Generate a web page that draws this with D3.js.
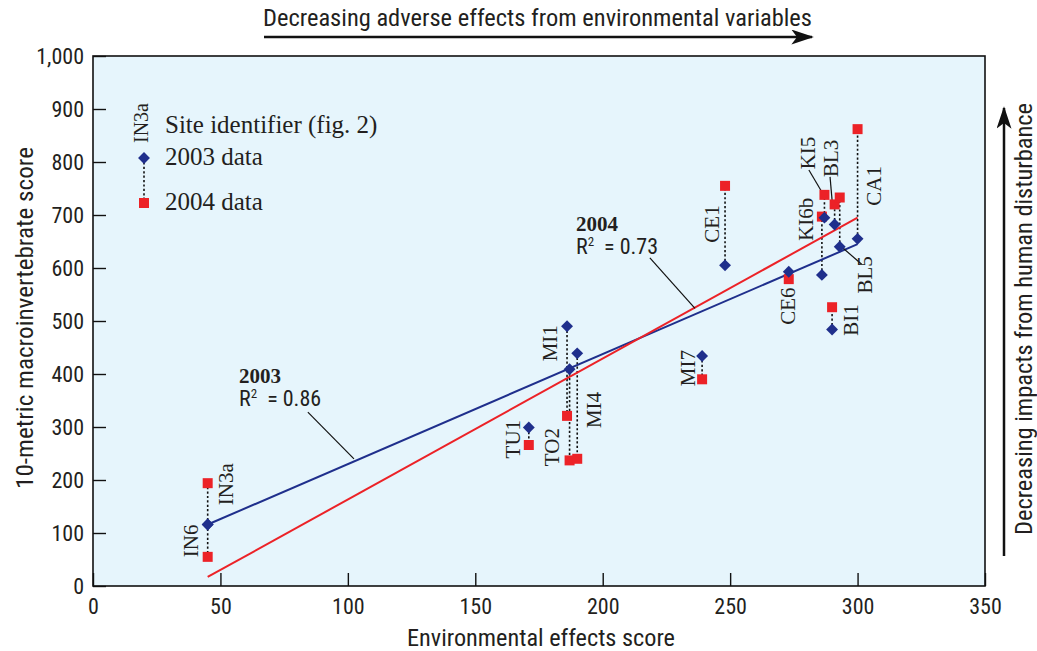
<!DOCTYPE html>
<html>
<head>
<meta charset="utf-8">
<script src="https://cdn.jsdelivr.net/npm/d3@7"></script>
<style>
  body { margin: 0; background: #fff; }
  svg { display: block; }
  .sans { font-family: "Liberation Sans Narrow", "Roboto Condensed", "Liberation Sans", sans-serif; }
  .serif { font-family: "Liberation Serif", "DejaVu Serif", serif; }
</style>
</head>
<body>
<script>
const WIDTH = 1037
const HEIGHT = 651

// site data: environmental effects score, 2003 and 2004 macroinvertebrate scores
const SITES = ['IN3a', 'IN6', 'TU1', 'MI1', 'TO2', 'MI4', 'MI7', 'CE1', 'CE6', 'KI6b', 'KI5', 'BI1', 'BL3', 'BL5', 'CA1']
const ENV_SCORE = [45, 45, 171, 186, 187, 190, 239, 248, 273, 286, 287, 290, 291, 293, 300]
const SCORE_2003 = [116, 116, 299, 490, 409, 439, 434, 605, 593, 587, 695, 484, 682, 640, 655]
const SCORE_2004 = [194, 55, 266, 321, 237, 240, 390, 755, 579, 697, 738, 526, 720, 733, 862]

// where each site label sits (data units)
const LABEL_X = [52, 38.5, 164.5, 179.3, 180.1, 196.5, 233.4, 242.8, 272.7, 279.7, 280.5, 297.4, 289.5, 302.9, 306.4]
const LABEL_Y = [192, 85, 277, 458, 262, 332, 411, 683, 528, 692, 817, 502, 807, 587, 755]

// leader lines for a few crowded labels [x1, y1, x2, y2]
const LEADERS = [
  [280.9, 785, 286.4, 740],   // KI5
  [289.2, 772, 290, 728],     // BL3
  [293, 643, 301.6, 607],     // BL5
  [84.3, 328, 102.4, 240],    // 2003 fit
  [218.5, 619, 236.2, 524]    // 2004 fit
]

// regression lines
const FIT_2003 = [[45, 116], [300, 645]]
const FIT_2004 = [[45, 17], [300, 695]]

const X_TICKS = [0, 50, 100, 150, 200, 250, 300, 350]
const Y_TICKS = [0, 100, 200, 300, 400, 500, 600, 700, 800, 900, 1000]

const BLUE = '#1f2f8c'
const RED = '#ec2227'

const data = SITES.map((s, i) => ({
  site: s, x: ENV_SCORE[i], y3: SCORE_2003[i], y4: SCORE_2004[i], lx: LABEL_X[i], ly: LABEL_Y[i]
}))

const svg = d3.select('body').append('svg')
  .attr('width', WIDTH)
  .attr('height', HEIGHT)

const x = d3.scaleLinear().domain([0, 350]).range([93, 985])
const y = d3.scaleLinear().domain([0, 1000]).range([586, 56])

// fond bleu + cadre
svg.append('rect')
  .attr('x', x(0)).attr('y', y(1000))
  .attr('width', x(350) - x(0)).attr('height', y(0) - y(1000))
  .attr('fill', '#e6f5fc')

// axes, ticks pointing inward
const xAxis = svg.append('g')
  .attr('transform', `translate(0,${y(0)})`)
  .call(d3.axisBottom(x).tickValues(X_TICKS).tickSize(-13).tickPadding(12))
const yAxis = svg.append('g')
  .attr('transform', `translate(${x(0)},0)`)
  .call(d3.axisLeft(y).tickValues(Y_TICKS).tickFormat(d3.format(',')).tickSize(-13).tickPadding(9))

;[xAxis, yAxis].forEach(g => {
  g.select('.domain').remove()
  g.selectAll('.tick line').attr('stroke', '#111').attr('stroke-width', 1.4)
  g.selectAll('.tick text')
    .attr('class', 'sans')
    .attr('font-size', 22)
    .attr('fill', '#231f20')
})
yAxis.selectAll('.tick text').attr('dy', '0.36em')

svg.append('rect')
  .attr('x', x(0)).attr('y', y(1000))
  .attr('width', x(350) - x(0)).attr('height', y(0) - y(1000))
  .attr('fill', 'none').attr('stroke', '#111').attr('stroke-width', 1.6)

// titres, largeur calée sur la figure
function title(sel, len) {
  return sel.attr('class', 'sans')
    .attr('font-size', 24)
    .attr('fill', '#231f20')
    .attr('textLength', len)
    .attr('lengthAdjust', 'spacingAndGlyphs')
}

title(svg.append('text'), 268)
  .attr('x', 541).attr('y', 646)
  .attr('text-anchor', 'middle')
  .text('Environmental effects score')

title(svg.append('text'), 342)
  .attr('transform', 'translate(33,318) rotate(-90)')
  .attr('text-anchor', 'middle')
  .text('10-metric macroinvertebrate score')

// arrows outside the plot
const defs = svg.append('defs')
defs.append('marker')
  .attr('id', 'arrow')
  .attr('viewBox', '0 0 12 8')
  .attr('refX', 11).attr('refY', 4)
  .attr('markerWidth', 9).attr('markerHeight', 6)
  .attr('markerUnits', 'strokeWidth')
  .attr('orient', 'auto')
  .append('path').attr('d', 'M0,0 L12,4 L0,8 L3,4 Z').attr('fill', '#111')

svg.append('line')
  .attr('x1', 264).attr('y1', 37).attr('x2', 812).attr('y2', 37)
  .attr('stroke', '#111').attr('stroke-width', 2.5)
  .attr('marker-end', 'url(#arrow)')
title(svg.append('text'), 549)
  .attr('x', 263).attr('y', 26)
  .text('Decreasing adverse effects from environmental variables')

svg.append('line')
  .attr('x1', 1004).attr('y1', 556).attr('x2', 1004).attr('y2', 108)
  .attr('stroke', '#111').attr('stroke-width', 2.5)
  .attr('marker-end', 'url(#arrow)')
title(svg.append('text'), 432)
  .attr('transform', 'translate(1032,535) rotate(-90)')
  .text('Decreasing impacts from human disturbance')

// dotted connectors between years
svg.append('g').selectAll('line')
  .data(data)
  .enter()
  .append('line')
  .attr('x1', d => x(d.x)).attr('x2', d => x(d.x))
  .attr('y1', d => y(d.y3)).attr('y2', d => y(d.y4))
  .attr('stroke', '#111').attr('stroke-width', 1.6)
  .attr('stroke-dasharray', '2.2,2.2')

// regression lines
const line = d3.line().x(d => x(d[0])).y(d => y(d[1]))
svg.append('path').attr('d', line(FIT_2003)).attr('fill', 'none').attr('stroke', BLUE).attr('stroke-width', 2)
svg.append('path').attr('d', line(FIT_2004)).attr('fill', 'none').attr('stroke', RED).attr('stroke-width', 2)

// leaders
svg.append('g').selectAll('line')
  .data(LEADERS)
  .enter()
  .append('line')
  .attr('x1', d => x(d[0])).attr('y1', d => y(d[1]))
  .attr('x2', d => x(d[2])).attr('y2', d => y(d[3]))
  .attr('stroke', '#111').attr('stroke-width', 1.2)

// markers
const diamond = d3.symbol().type(d3.symbolDiamond2).size(90)
const square = d3.symbol().type(d3.symbolSquare).size(100)

svg.append('g').selectAll('path')
  .data(data)
  .enter()
  .append('path')
  .attr('d', square)
  .attr('transform', d => `translate(${x(d.x)},${y(d.y4)})`)
  .attr('fill', RED)

svg.append('g').selectAll('path')
  .data(data)
  .enter()
  .append('path')
  .attr('d', diamond)
  .attr('transform', d => `translate(${x(d.x)},${y(d.y3)})`)
  .attr('fill', BLUE)

// site labels (rotated)
svg.append('g').selectAll('text')
  .data(data)
  .enter()
  .append('text')
  .attr('class', 'serif')
  .attr('transform', d => `translate(${x(d.lx)},${y(d.ly)}) rotate(-90)`)
  .attr('text-anchor', 'middle')
  .attr('dy', '0.35em')
  .attr('font-size', 21)
  .attr('fill', '#231f20')
  .text(d => d.site)

// fit annotations
function fitLabel(year, r2, xv, yv) {
  svg.append('text')
    .attr('class', 'serif')
    .attr('x', x(xv)).attr('y', y(yv))
    .attr('font-size', 21).attr('font-weight', 'bold')
    .attr('fill', '#231f20')
    .text(year)
  const t = svg.append('text')
    .attr('class', 'sans')
    .attr('x', x(xv)).attr('y', y(yv) + 23)
    .attr('font-size', 22)
    .attr('fill', '#231f20')
  t.append('tspan').text('R')
  t.append('tspan').attr('dy', -8).attr('font-size', 13).text('2')
  t.append('tspan').attr('dy', 8).attr('dx', 10).text('= ' + r2)
}
fitLabel('2003', '0.86', 57.3, 383)
fitLabel('2004', '0.73', 189.5, 670)

// legend
const leg = svg.append('g')
leg.append('text')
  .attr('class', 'serif')
  .attr('transform', 'translate(141,123) rotate(-90)')
  .attr('text-anchor', 'middle').attr('dy', '0.35em')
  .attr('font-size', 20).attr('fill', '#231f20')
  .text('IN3a')
leg.append('line')
  .attr('x1', 144).attr('x2', 144).attr('y1', 158).attr('y2', 203)
  .attr('stroke', '#111').attr('stroke-width', 1.6).attr('stroke-dasharray', '2.2,2.2')
leg.append('path').attr('d', diamond).attr('transform', 'translate(144,158)').attr('fill', BLUE)
leg.append('path').attr('d', square).attr('transform', 'translate(144,203)').attr('fill', RED)
const LEGEND_TEXT = ['Site identifier (fig. 2)', '2003 data', '2004 data']
const LEGEND_Y = [133, 165, 210]
leg.selectAll('text.item')
  .data(LEGEND_TEXT)
  .enter()
  .append('text')
  .attr('class', 'serif item')
  .attr('x', 165).attr('y', (d, i) => LEGEND_Y[i])
  .attr('font-size', 25).attr('fill', '#231f20')
  .text(d => d)
</script>
</body>
</html>
